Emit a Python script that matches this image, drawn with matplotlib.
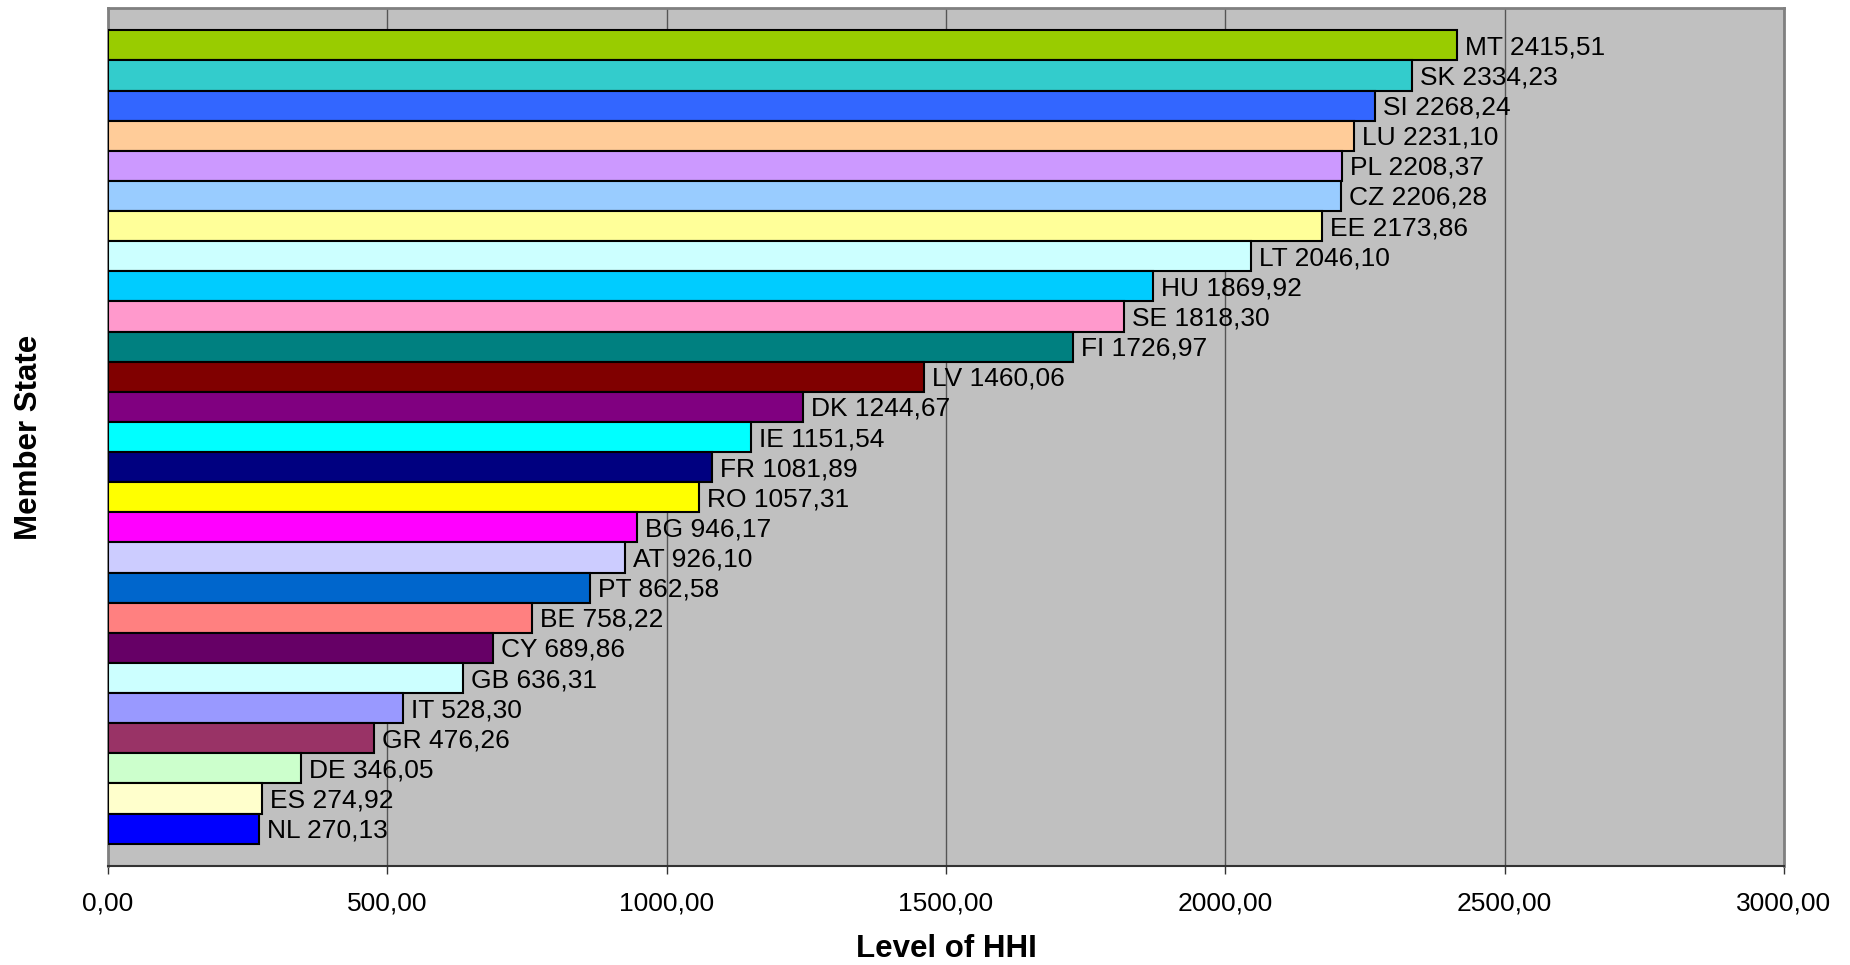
import matplotlib
matplotlib.use("Agg")
import matplotlib.pyplot as plt
from matplotlib.ticker import FuncFormatter, MultipleLocator

plt.rcParams['font.family'] = ['Liberation Sans', 'DejaVu Sans']

# Herfindahl-Hirschman Index by Member State (highest first)
states = ["MT", "SK", "SI", "LU", "PL", "CZ", "EE", "LT", "HU", "SE", "FI", "LV", "DK",
          "IE", "FR", "RO", "BG", "AT", "PT", "BE", "CY", "GB", "IT", "GR", "DE", "ES", "NL"]
hhi = [2415.51, 2334.23, 2268.24, 2231.10, 2208.37, 2206.28, 2173.86, 2046.10, 1869.92,
       1818.30, 1726.97, 1460.06, 1244.67, 1151.54, 1081.89, 1057.31, 946.17, 926.10,
       862.58, 758.22, 689.86, 636.31, 528.30, 476.26, 346.05, 274.92, 270.13]
bar_colors = ["#99CC00", "#33CCCC", "#3366FF", "#FFCC99", "#CC99FF", "#99CCFF", "#FFFF99",
              "#CCFFFF", "#00CCFF", "#FF99CC", "#008080", "#800000", "#800080", "#00FFFF",
              "#000080", "#FFFF00", "#FF00FF", "#CCCCFF", "#0066CC", "#FF8080", "#660066",
              "#CCFFFF", "#9999FF", "#993366", "#CCFFCC", "#FFFFCC", "#0000FF"]

W, H = 1850, 965
fig = plt.figure(figsize=(W / 100, H / 100), dpi=100)
left, right, top, bottom = 108, 1784, 8, 866
ax = fig.add_axes([left / W, 1 - bottom / H, (right - left) / W, (bottom - top) / H])
ax.set_facecolor("#C0C0C0")

n = len(states)
ypos = list(range(n))
ax.barh(ypos, hhi, height=1.0, color=bar_colors, edgecolor="black", linewidth=1.5, zorder=3)

def fmt(v):
    return f"{v:.2f}".replace(".", ",")

for y, s, v in zip(ypos, states, hhi):
    ax.annotate(f"{s} {fmt(v)}", xy=(v, y), xytext=(8, -2), textcoords="offset pixels",
                ha="left", va="center", fontsize=19, color="black", zorder=4)

pad = 0.74
ax.set_ylim(n - 0.5 + pad, -0.5 - pad)
ax.set_xlim(0, 3000)
ax.xaxis.set_major_locator(MultipleLocator(500))
ax.xaxis.set_major_formatter(FuncFormatter(lambda v, p: fmt(v)))
ax.set_yticks([])
ax.grid(axis="x", color="#555555", linewidth=1.0, zorder=1)
ax.tick_params(axis="x", length=6, width=1.0, color="#333333", pad=12, labelsize=19)

for side in ["top", "right", "left"]:
    ax.spines[side].set_color("#808080")
    ax.spines[side].set_linewidth(2)
ax.spines["bottom"].set_color("#333333")
ax.spines["bottom"].set_linewidth(1.5)

ax.set_xlabel("Level of HHI", fontsize=22.5, fontweight="bold")
ax.xaxis.label.set_va("center")
ax.xaxis.set_label_coords(0.5, (bottom - 949) / (bottom - top))
ax.set_ylabel("Member State", fontsize=22.5, fontweight="bold")
ax.yaxis.label.set_va("center")
ax.yaxis.set_label_coords((29 - left) / (right - left), 0.5)

fig.savefig("out.png", dpi=100)
